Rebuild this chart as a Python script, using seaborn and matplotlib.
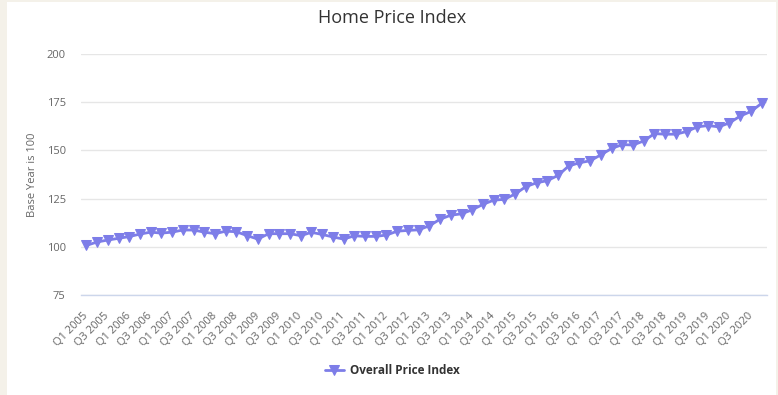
import numpy as np
import pandas as pd
import matplotlib
matplotlib.use("Agg")
import matplotlib.pyplot as plt
from matplotlib.patches import Rectangle
import seaborn as sns

# Quarterly home price index, Q1 2005 .. Q4 2020
years = list(range(2005, 2021))
quarters = [f"Q{q} {y}" for y in years for q in (1, 2, 3, 4)]
price_index = [
    100.7, 102.5, 103.5, 104.4, 105.3, 106.6, 107.6, 107.1,
    107.6, 108.7, 108.7, 107.6, 106.8, 108.1, 107.8, 105.8,
    104.0, 106.8, 106.8, 106.8, 105.8, 107.5, 106.4, 105.1,
    104.0, 105.7, 105.4, 105.4, 106.1, 108.1, 108.5, 108.8,
    110.9, 114.3, 116.4, 117.1, 119.2, 122.0, 124.2, 124.6,
    127.4, 131.2, 133.2, 134.3, 137.0, 141.9, 143.6, 144.6,
    147.7, 151.0, 153.0, 152.8, 154.9, 158.7, 158.4, 158.4,
    159.8, 162.2, 162.9, 162.2, 164.3, 167.8, 170.2, 174.4,
]
y_ticks = [75, 100, 125, 150, 175, 200]
series_name = "Overall Price Index"

df = pd.DataFrame({"quarter": quarters, "value": price_index})
df["pos"] = np.arange(len(df))

sns.set_style("white")
plt.rcParams["font.family"] = ["Open Sans", "DejaVu Sans"]

line_color = "#7d7de8"
text_color = "#666666"
axis_color = "#ccd6eb"

fig = plt.figure(figsize=(7.78, 3.95), dpi=100)
fig.patch.set_facecolor("#f4f1e9")
# white card behind the chart
fig.patches.append(Rectangle((7 / 778, 0), 769 / 778, 393 / 395,
                             transform=fig.transFigure, facecolor="white",
                             edgecolor="none", zorder=-10))

ax = fig.add_axes([81 / 778, 1 - 295 / 395, 686 / 778, 241 / 395])
ax.set_facecolor("none")

sns.lineplot(data=df, x="pos", y="value", ax=ax, color=line_color,
             linewidth=2, marker="v", markersize=6.5, markeredgecolor=line_color,
             label=series_name, zorder=3)

ax.set_xlim(-0.5, len(df) - 0.5)
ax.set_ylim(75, 200)
ax.set_yticks(y_ticks)
ax.yaxis.grid(True, color="#e6e6e6", linewidth=1)
ax.set_axisbelow(True)

ax.set_xticks(df["pos"][::2])
ax.set_xticklabels(df["quarter"][::2], rotation=45, ha="right",
                   va="center", rotation_mode="anchor")
ax.tick_params(axis="x", length=7, width=1, color=axis_color,
               labelsize=8, labelcolor=text_color, pad=7)
ax.tick_params(axis="y", length=0, labelsize=8, labelcolor=text_color, pad=11)

for side in ("left", "right", "top"):
    ax.spines[side].set_visible(False)
ax.spines["bottom"].set_color(axis_color)
ax.spines["bottom"].set_linewidth(1)

ax.set_xlabel("")
ax.set_ylabel("Base Year is 100", color=text_color, fontsize=8, labelpad=6)

fig.text(392 / 778, 1 - 18 / 395, "Home Price Index", ha="center",
         va="center", fontsize=13, color="#333333")

leg = ax.legend(loc="center", bbox_to_anchor=(392 / 778, 1 - 371 / 395),
                bbox_transform=fig.transFigure, frameon=False,
                prop={"weight": "bold", "size": 8.5}, handlelength=1.6,
                handletextpad=0.5)
for t in leg.get_texts():
    t.set_color("#333333")

fig.savefig("out.png", dpi=100, facecolor=fig.get_facecolor())
